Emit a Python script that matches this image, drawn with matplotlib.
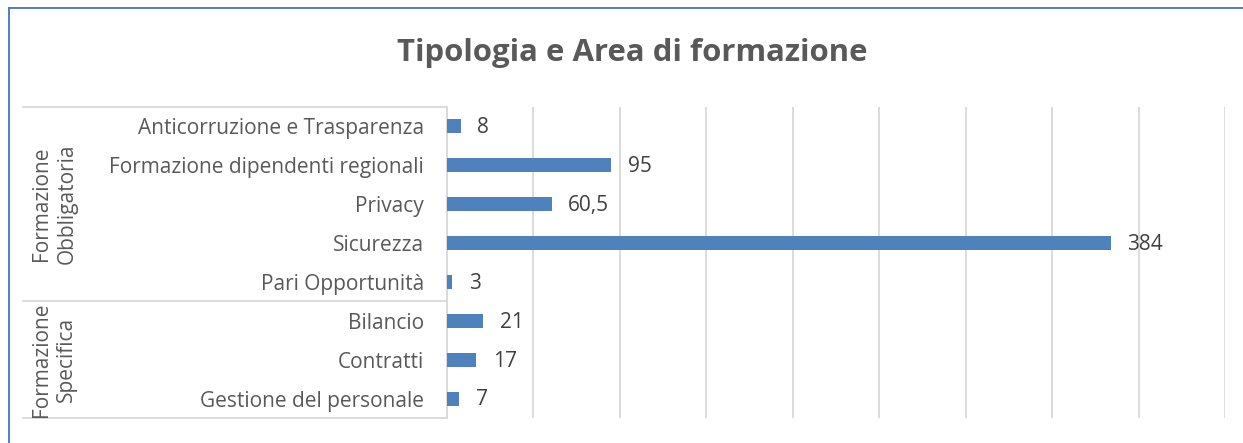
import matplotlib
matplotlib.use("Agg")
import matplotlib.pyplot as plt
import matplotlib.transforms as mtransforms
from matplotlib.lines import Line2D

categories = ["Anticorruzione e Trasparenza", "Formazione dipendenti regionali",
              "Privacy", "Sicurezza", "Pari Opportunità",
              "Bilancio", "Contratti", "Gestione del personale"]
values = [8, 95, 60.5, 384, 3, 21, 17, 7]
groups = ["Formazione\nObbligatoria", "Formazione\nSpecifica"]
group_sizes = [5, 3]
title = "Tipologia e Area di formazione"

plt.rcParams['font.family'] = ['Open Sans', 'DejaVu Sans']

W, H = 1243, 443
fig = plt.figure(figsize=(W / 100, H / 100), dpi=100)
fig.patch.set_facecolor('white')

ax = fig.add_axes([447 / W, 1 - 418 / H, (1225 - 447) / W, (418 - 107) / H])

bar_color = '#4F81BD'
text_color = '#595959'
grid_color = '#D9D9D9'
fs = 15

ypos = list(range(len(categories)))
ax.barh(ypos, values, height=0.36, color=bar_color, zorder=3)
ax.set_xlim(0, 450)
ax.set_ylim(len(categories) - 0.5, -0.5)
ax.set_xticks(range(0, 451, 50))
ax.set_xticklabels([])
ax.tick_params(axis='x', length=0)
ax.grid(axis='x', color=grid_color, linewidth=1.3, zorder=0)
ax.set_yticks(ypos)
ax.set_yticklabels(categories, fontsize=fs, color=text_color)
ax.tick_params(axis='y', length=0, pad=16.5)
for s in ['top', 'right', 'bottom']:
    ax.spines[s].set_visible(False)
ax.spines['left'].set_color(grid_color)
ax.spines['left'].set_linewidth(1.3)

for i, v in enumerate(values):
    lab = f"{v:g}".replace('.', ',')
    ax.annotate(lab, (v, i), xytext=(12, -1), textcoords='offset points',
                va='center', ha='left', fontsize=fs, color='#404040')

# multi-level category box
tr = mtransforms.blended_transform_factory(fig.transFigure, ax.transData)
x0 = 23 / W
x1 = 446 / W
bounds = [-0.5]
for g in group_sizes:
    bounds.append(bounds[-1] + g)
for b in bounds:
    ax.add_line(Line2D([x0, x1], [b, b], transform=tr, color=grid_color,
                       linewidth=1.3, clip_on=False))
for gi, g in enumerate(groups):
    yc = (bounds[gi] + bounds[gi + 1]) / 2
    ax.text(54 / W, yc, g, transform=tr, rotation=90, ha='center', va='center',
            fontsize=fs, color=text_color, linespacing=1.3, multialignment='center')

fig.text(632 / W, 1 - 53 / H, title, ha='center', va='center', fontsize=22.4,
         fontweight='bold', color=text_color)

# chart border (blue)
border = '#4472C4'
fig.add_artist(Line2D([9 / W, 1.0], [1 - 8 / H, 1 - 8 / H], transform=fig.transFigure,
                      color=border, linewidth=1.3))
fig.add_artist(Line2D([9 / W, 9 / W], [0, 1 - 8 / H], transform=fig.transFigure,
                      color=border, linewidth=1.3))

fig.savefig("out.png", dpi=100, facecolor='white')
